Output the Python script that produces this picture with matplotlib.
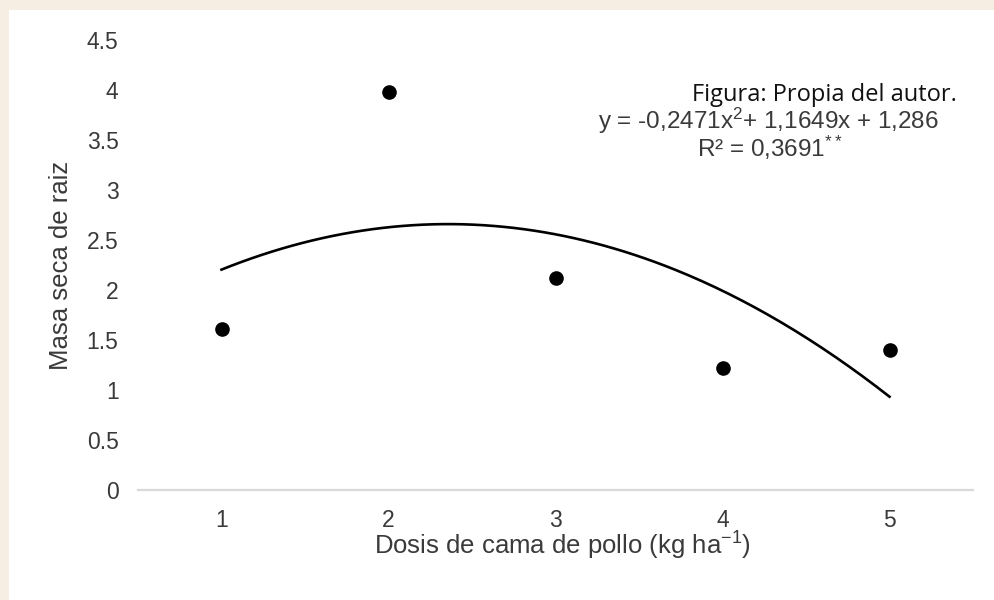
import numpy as np
import matplotlib
matplotlib.use("Agg")
import matplotlib.pyplot as plt
from matplotlib.patches import Rectangle

# ---------------------------------------------------------
# data
# ---------------------------------------------------------
dosis = [1, 2, 3, 4, 5]
masa_seca = [1.61, 3.98, 2.12, 1.22, 1.40]

# trendline coefficients as printed on the chart (a*x^2 + b*x + c)
trend_coef = [-0.2471, 1.1649, 1.286]

y_ticks = [0, 0.5, 1, 1.5, 2, 2.5, 3, 3.5, 4, 4.5]
y_tick_labels = ["0", "0.5", "1", "1.5", "2", "2.5", "3", "3.5", "4", "4.5"]
x_tick_labels = ["1", "2", "3", "4", "5"]

eq_text = "y = -0,2471x$^{2}$+ 1,1649x + 1,286"
r2_text = "R² = 0,3691$^{**}$"
source_text = "Figura: Propia del autor."

# ---------------------------------------------------------
# style
# ---------------------------------------------------------
plt.rcParams["font.family"] = ["Liberation Sans", "DejaVu Sans"]
plt.rcParams["mathtext.fontset"] = "custom"
plt.rcParams["mathtext.rm"] = "Liberation Sans"
plt.rcParams["mathtext.it"] = "Liberation Sans"
plt.rcParams["mathtext.default"] = "regular"

TEXT = "#3a3a3a"
W, H = 994, 600

fig = plt.figure(figsize=(W / 100, H / 100), dpi=100, facecolor="#f6eee3")

# white card on beige page
fig.patches.append(Rectangle((9 / W, 0), 1, 1 - 10 / H, transform=fig.transFigure,
                             facecolor="white", edgecolor="none", zorder=-10))

ax = fig.add_axes([138 / W, 1 - 490 / H, (973 - 138) / W, (490 - 40) / H])
ax.set_facecolor("white")
ax.set_zorder(1)

# ---- trendline ----
xs = np.linspace(dosis[0], dosis[-1], 200)
ax.plot(xs, np.polyval(trend_coef, xs), color="black", lw=1.9, zorder=2)

# ---- points ----
ax.plot(dosis, masa_seca, "o", color="black", ms=9.5, zorder=3)

ax.set_xlim(0.5, 5.5)
ax.set_ylim(0, 4.5)
ax.set_xticks(dosis)
ax.set_xticklabels(x_tick_labels)
ax.set_yticks(y_ticks)
ax.set_yticklabels(y_tick_labels)
ax.tick_params(length=0, labelsize=16.5, colors=TEXT)
ax.tick_params(axis="x", pad=14)
ax.tick_params(axis="y", pad=14)

for side in ["top", "right", "left"]:
    ax.spines[side].set_visible(False)
ax.spines["bottom"].set_color("#d9d9d9")
ax.spines["bottom"].set_linewidth(1.6)

ax.set_xlabel("Dosis de cama de pollo (kg ha$^{-1}$)", fontsize=18.5, color=TEXT,
              va="baseline", ha="center")
ax.xaxis.set_label_coords(0.508, (490 - 555) / 450)
ax.set_ylabel("Masa seca de raiz", fontsize=18.5, color=TEXT, va="center", ha="center")
ax.yaxis.set_label_coords((61 - 138) / 835, 0.5)

# ---- annotations ----
fig.text(957 / W, 1 - 101 / H, source_text, fontsize=17, fontweight="medium",
         family=["Open Sans", "DejaVu Sans"], color="#111111", ha="right", va="baseline")
fig.text(768 / W, 1 - 129 / H, eq_text, fontsize=17.5, color=TEXT, ha="center", va="baseline")
fig.text(770 / W, 1 - 157 / H, r2_text, fontsize=17.5, color=TEXT, ha="center", va="baseline")

fig.savefig("out.png", dpi=100, facecolor=fig.get_facecolor())
